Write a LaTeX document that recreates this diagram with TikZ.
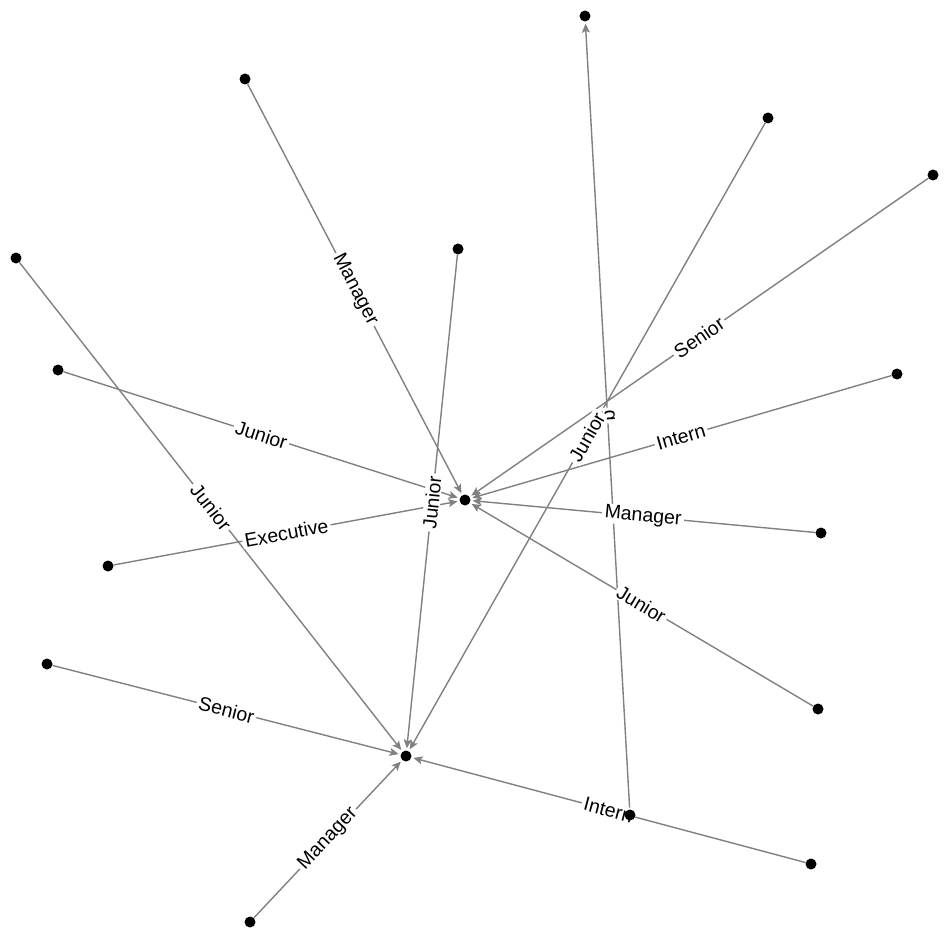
\documentclass[tikz,border=0pt]{standalone}
\usepackage{fontspec}
\setmainfont{Liberation Sans}
\usetikzlibrary{arrows.meta}
\begin{document}
\begin{tikzpicture}[x=1pt,y=-1pt,
  dotn/.style={circle,inner sep=0pt,minimum size=11pt},
  edge/.style={draw=gray,line width=1.4pt,-{Stealth[length=9pt,width=8pt,inset=2pt]},shorten >=2pt},
  lbl/.style={midway,sloped,fill=white,inner xsep=2.5pt,inner ysep=1pt,font=\fontsize{19.5}{22}\selectfont}]
\useasboundingbox (0,0) rectangle (950,939);
\node[dotn] (A) at (585,16) {};
\node[dotn] (B) at (245,79) {};
\node[dotn] (C) at (768,118) {};
\node[dotn] (D) at (933,175) {};
\node[dotn] (E) at (458,249) {};
\node[dotn] (F) at (16,258) {};
\node[dotn] (G) at (58,370) {};
\node[dotn] (H) at (897,374) {};
\node[dotn] (X) at (465,500) {};
\node[dotn] (I) at (821,533) {};
\node[dotn] (J) at (108,566) {};
\node[dotn] (K) at (47,664) {};
\node[dotn] (L) at (818,709) {};
\node[dotn] (Y) at (406,756) {};
\node[dotn] (M) at (630,815) {};
\node[dotn] (N) at (811,864) {};
\node[dotn] (O) at (250,922) {};
% edges
\draw[edge] (B) -- (X);
\draw[edge] (G) -- (X);
\draw[edge] (J) -- (X);
\draw[edge] (D) -- (X);
\draw[edge] (H) -- (X);
\draw[edge] (I) -- (X);
\draw[edge] (L) -- (X);
\draw[edge] (E) -- (Y);
\draw[edge] (F) -- (Y);
\draw[edge] (K) -- (Y);
\draw[edge] (O) -- (Y);
\draw[edge] (N) -- (Y);
\draw[edge] (C) -- (Y);
\draw[edge] (M) -- (A);
% labels
\path (B) -- node[lbl] (lb1) {Manager} (X);
\path (G) -- node[lbl] (lb2) {Junior} (X);
\path (J) -- node[lbl] (lb3) {Executive} (X);
\path (D) -- node[lbl] (lb4) {Senior} (X);
\path (H) -- node[lbl] (lb5) {Intern} (X);
\path (I) -- node[lbl] (lb6) {Manager} (X);
\path (L) -- node[lbl] (lb7) {Junior} (X);
\path (E) -- node[lbl] (lb8) {Junior} (Y);
\path (F) -- node[lbl] (lb9) {Junior} (Y);
\path (K) -- node[lbl] (lb10) {Senior} (Y);
\path (O) -- node[lbl] (lb11) {Manager} (Y);
\path (N) -- node[lbl] (lb12) {Intern} (Y);
\path (M) -- node[lbl,pos=0.5] (lb14) {g} (A);
\path (C) -- node[lbl] (lb13) {Junior} (Y);
% dots on top
\foreach \n in {A,B,C,D,E,F,G,H,X,I,J,K,L,Y,M,N,O}
  \fill[black] (\n) circle (5.5pt);
\end{tikzpicture}
\end{document}
